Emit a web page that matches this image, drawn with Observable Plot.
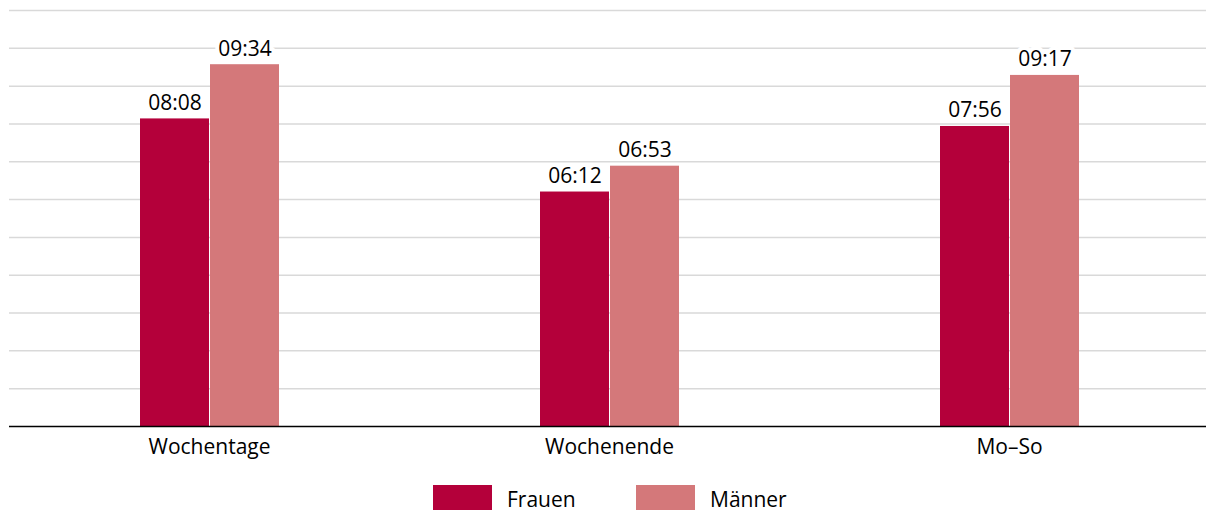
<!DOCTYPE html>
<html>
<head>
<meta charset="utf-8">
<script src="https://cdn.jsdelivr.net/npm/d3@7"></script>
<script src="https://cdn.jsdelivr.net/npm/@observablehq/plot@0.6"></script>
<style>
  html, body { margin: 0; padding: 0; background: #fff; }
  body { width: 1206px; height: 511px; overflow: hidden; font-family: "Open Sans", sans-serif; }
  #chart svg { display: block; }
  #legend { position: relative; height: 41px; }
  .item { position: absolute; top: 15px; height: 25px; display: flex; align-items: center; font-size: 21px; line-height: 1; color: #000; }
  .item span { position: relative; top: 2px; }
  .sw { width: 59px; height: 25px; margin-right: 15px; }
</style>
</head>
<body>
<div id="chart"></div>
<div id="legend"></div>
<script>
const categories = ["Wochentage", "Wochenende", "Mo–So"];
const series = ["Frauen", "Männer"];
const frauenMinutes = [488, 372, 476];   // 08:08, 06:12, 07:56
const maennerMinutes = [574, 413, 557];  // 09:34, 06:53, 09:17
const colors = ["#b4003a", "#d4787a"];
const gridTicks = [60, 120, 180, 240, 300, 360, 420, 480, 540, 600, 660];

const data = [];
categories.forEach((c, i) => {
  data.push({cat: c, sex: "Frauen", v: frauenMinutes[i]});
  data.push({cat: c, sex: "Männer", v: maennerMinutes[i]});
});
const fmt = m => String(Math.floor(m / 60)).padStart(2, "0") + ":" + String(m % 60).padStart(2, "0");

const chart = Plot.plot({
  width: 1206,
  height: 470,
  marginLeft: 8,
  marginRight: -4,
  marginTop: 10,
  marginBottom: 44,
  style: {fontFamily: "Open Sans, sans-serif", fontSize: "21px", color: "#000", background: "#fff"},
  fx: {domain: categories, padding: 0, label: null},
  x: {domain: series, paddingInner: 0.015, paddingOuter: 1.84, axis: null},
  y: {domain: [0, 660], axis: null},
  color: {domain: series, range: colors},
  marks: [
    Plot.ruleY(gridTicks, {stroke: "#d9d9d9", strokeWidth: 1.5}),
    Plot.barY(data, {fx: "cat", x: "sex", y: "v", fill: "sex"}),
    Plot.text(data, {fx: "cat", x: "sex", y: "v", text: d => fmt(d.v), lineAnchor: "bottom", dy: -9,
      fill: "#000", stroke: "#fff", strokeWidth: 8, paintOrder: "stroke", fontSize: 21}),
    Plot.ruleY([0], {stroke: "#000", strokeWidth: 1.5}),
    Plot.axisFx({anchor: "bottom", tickSize: 0, tickPadding: 13, label: null, fontSize: 21})
  ]
});
document.getElementById("chart").appendChild(chart);

const legend = document.getElementById("legend");
const lefts = [433, 636];
series.forEach((s, i) => {
  const it = document.createElement("div");
  it.className = "item";
  it.style.left = lefts[i] + "px";
  const sw = document.createElement("div");
  sw.className = "sw";
  sw.style.background = colors[i];
  const t = document.createElement("span");
  t.textContent = s;
  it.appendChild(sw);
  it.appendChild(t);
  legend.appendChild(it);
});
</script>
</body>
</html>
